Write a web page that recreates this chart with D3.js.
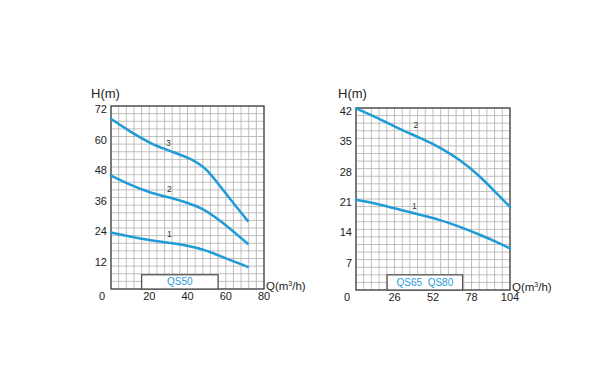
<!DOCTYPE html>
<html><head><meta charset="utf-8">
<script src="https://cdn.jsdelivr.net/npm/d3@7"></script>
<style>body{margin:0;background:#fff}svg{display:block;font-family:"Liberation Sans",Arial,sans-serif}</style>
</head><body><svg id="c" width="600" height="367"></svg>
<script>
// ---- data: left chart (QS50) ----
const leftXTicks = [0, 20, 40, 60, 80];
const leftYTicks = [0, 12, 24, 36, 48, 60, 72];
const leftQ3 = [0, 10, 20, 30, 40, 46, 50, 55, 62, 71.5];
const leftH3 = [66.9, 61.9, 57.5, 54.5, 51.8, 49.4, 47.0, 42.5, 35.6, 26.8];
const leftQ2 = [0, 10, 20, 30, 40, 48, 54, 62, 71.5];
const leftH2 = [44.6, 40.9, 38.0, 36.1, 34.0, 31.6, 28.6, 24.0, 17.8];
const leftQ1 = [0, 10, 20, 30, 40, 49, 57, 64, 71.5];
const leftH1 = [22.2, 20.6, 19.2, 18.2, 17.1, 15.4, 13.0, 10.9, 8.7];
const leftBoxLabel = "QS50";
// ---- data: right chart (QS65 QS80) ----
const rightXTicks = [0, 26, 52, 78, 104];
const rightYTicks = [0, 7, 14, 21, 28, 35, 42];
const rightQ = [0, 16, 30, 43, 57, 70, 84, 95, 104];
const rightH2 = [41.9, 39.5, 37.0, 35.2, 32.9, 30.1, 26.2, 22.3, 19.2];
const rightH1 = [20.8, 19.8, 18.5, 17.4, 16.2, 14.6, 12.7, 11.1, 9.6];
const rightBoxLabel = "QS65  QS80";

const svg = d3.select("#c");
const blue = "#1f9bd7";

function chart(o) {
  const x = d3.scaleLinear().domain(o.xd).range([o.x0, o.x1]);
  const y = d3.scaleLinear().domain(o.yd).range([o.y1, o.y0]);
  const g = svg.append("g");
  // grid
  g.selectAll(".gx").data(d3.range(o.xd[0], o.xd[1] + 1e-6, o.gx)).join("line")
    .attr("x1", d => x(d)).attr("x2", d => x(d)).attr("y1", o.y0).attr("y2", o.y1)
    .attr("stroke", "#b0b0b0").attr("stroke-width", 0.8);
  g.selectAll(".gy").data(d3.range(o.yd[0], o.yd[1] + 1e-6, o.gy)).join("line")
    .attr("y1", d => y(d)).attr("y2", d => y(d)).attr("x1", o.x0).attr("x2", o.x1)
    .attr("stroke", "#b0b0b0").attr("stroke-width", 0.8);
  g.append("rect").attr("x", o.x0).attr("y", o.y0).attr("width", o.x1 - o.x0).attr("height", o.y1 - o.y0)
    .attr("fill", "none").attr("stroke", "#444").attr("stroke-width", 1.3);
  // box
  g.append("rect").attr("x", x(o.box[0])).attr("y", y(o.box[2])).attr("width", x(o.box[1]) - x(o.box[0]))
    .attr("height", y(0) - y(o.box[2])).attr("fill", "#fff").attr("stroke", "#555").attr("stroke-width", 1.3);
  g.append("text").attr("x", (x(o.box[0]) + x(o.box[1])) / 2).attr("y", y(o.box[2] / 2) + 3.5)
    .attr("text-anchor", "middle").attr("font-size", 10).attr("fill", blue).style("white-space", "pre").text(o.boxLabel);
  // curves
  const line = d3.line().x(d => x(d[0])).y(d => y(d[1])).curve(d3.curveBasis);
  o.curves.forEach(c => {
    g.append("path").datum(d3.zip(c.q, c.h)).attr("d", line).attr("fill", "none")
      .attr("stroke", blue).attr("stroke-width", 2.5).attr("stroke-linecap", "round");
    g.append("text").attr("x", x(c.lx)).attr("y", y(c.ly)).attr("text-anchor", "middle")
      .attr("font-size", 8.5).attr("fill", "#333").text(c.name);
  });
  // tick labels
  g.selectAll(".yl").data(o.yt.filter(d => d > 0)).join("text")
    .attr("x", o.x0 - 4).attr("y", d => y(d) + 7).attr("text-anchor", "end")
    .attr("font-size", 11).attr("fill", "#222").text(d => d);
  g.selectAll(".xl").data(o.xt.filter(d => d > 0)).join("text")
    .attr("x", d => x(d)).attr("y", o.y1 + 11).attr("text-anchor", "middle")
    .attr("font-size", 11).attr("fill", "#222").text(d => d);
  g.append("text").attr("x", o.x0 - 9).attr("y", o.y1 + 11).attr("text-anchor", "middle")
    .attr("font-size", 11).attr("fill", "#222").text("0");
  g.append("text").attr("x", o.hx).attr("y", 98).attr("font-size", 13).attr("fill", "#222").text("H(m)");
  const q = g.append("text").attr("x", o.x1 + 2).attr("y", o.y1 + 1).attr("font-size", 11.5).attr("fill", "#222");
  q.append("tspan").text("Q(m");
  q.append("tspan").attr("font-size", 7).attr("dy", -4).text("3");
  q.append("tspan").attr("dy", 4).text("/h)");
}

chart({
  xd: [0, 80], yd: [0, 72], x0: 111, x1: 264, y0: 106, y1: 289, gx: 4, gy: 3,
  xt: leftXTicks, yt: leftYTicks, box: [16, 56, 5.6], boxLabel: leftBoxLabel, hx: 91,
  curves: [
    {q: leftQ3, h: leftH3, name: "3", lx: 30, ly: 56.3},
    {q: leftQ2, h: leftH2, name: "2", lx: 30.5, ly: 38.3},
    {q: leftQ1, h: leftH1, name: "1", lx: 30.5, ly: 20.3}
  ]
});
chart({
  xd: [0, 104], yd: [0, 42], x0: 356, x1: 510, y0: 108, y1: 290, gx: 5.2, gy: 1.75,
  xt: rightXTicks, yt: rightYTicks, box: [21, 72, 3.5], boxLabel: rightBoxLabel, hx: 338,
  curves: [
    {q: rightQ, h: rightH2, name: "2", lx: 40.5, ly: 37.5},
    {q: rightQ, h: rightH1, name: "1", lx: 39.5, ly: 18.8}
  ]
});
</script></body></html>
